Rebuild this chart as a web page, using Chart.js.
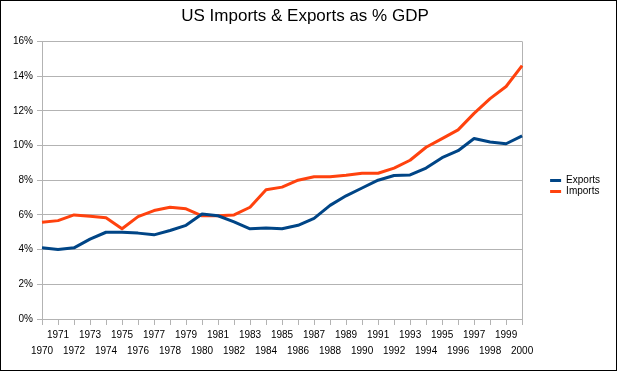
<!doctype html>
<html lang="en">
<head>
  <meta charset="utf-8">
  <title>US Imports & Exports as % GDP</title>
  <script src="https://cdn.jsdelivr.net/npm/chart.js"></script>
  <style>
    html, body { margin: 0; padding: 0; background: #fff; }
    #wrap { width: 618px; height: 372px; position: relative; }
  </style>
</head>
<body>
  <div id="wrap"><canvas id="chart" width="618" height="372"></canvas></div>
  <script>
    const years = ['1970','1971','1972','1973','1974','1975','1976','1977','1978','1979',
                   '1980','1981','1982','1983','1984','1985','1986','1987','1988','1989',
                   '1990','1991','1992','1993','1994','1995','1996','1997','1998','1999','2000'];
    const exportsPct = [4.1, 4.0, 4.1, 4.6, 5.0, 5.0, 4.95, 4.85, 5.1, 5.4,
                        6.05, 5.95, 5.6, 5.2, 5.25, 5.2, 5.4, 5.8, 6.55, 7.1,
                        7.55, 8.0, 8.27, 8.3, 8.7, 9.3, 9.7, 10.4, 10.2, 10.1, 10.55];
    const importsPct = [5.58, 5.67, 6.0, 5.92, 5.83, 5.2, 5.9, 6.25, 6.44, 6.35,
                        5.95, 5.95, 6.0, 6.44, 7.45, 7.6, 8.0, 8.2, 8.2, 8.28,
                        8.4, 8.4, 8.7, 9.15, 9.9, 10.4, 10.9, 11.85, 12.7, 13.4, 14.6];
    const yTicks = [0, 2, 4, 6, 8, 10, 12, 14, 16];

    const gridGray = '#b3b3b3';
    const font = { family: '"Liberation Sans", Arial, sans-serif', size: 10 };

    // black frame round the whole picture
    const frame = {
      id: 'frame',
      afterDraw(chart) {
        const c = chart.ctx;
        c.save();
        c.strokeStyle = '#000';
        c.lineWidth = 1;
        c.strokeRect(0.5, 0.5, 616, 370);
        c.restore();
      }
    };

    new Chart(document.getElementById('chart'), {
      type: 'line',
      data: {
        labels: years,
        datasets: [
          { label: 'Exports', data: exportsPct, borderColor: '#004586', backgroundColor: '#004586',
            borderWidth: 3, pointRadius: 0, tension: 0, borderJoinStyle: 'round' },
          { label: 'Imports', data: importsPct, borderColor: '#ff420e', backgroundColor: '#ff420e',
            borderWidth: 3, pointRadius: 0, tension: 0, borderJoinStyle: 'round' }
        ]
      },
      options: {
        responsive: false,
        animation: false,
        layout: { padding: { left: 0, right: 8, top: 0, bottom: 0 } },
        plugins: {
          title: {
            display: true,
            text: 'US Imports & Exports as % GDP',
            color: '#000',
            font: { family: font.family, size: 17, weight: 'normal', lineHeight: 1.2 },
            padding: { top: 6, bottom: 15 }
          },
          legend: {
            position: 'right',
            labels: {
              color: '#000',
              font: font,
              boxWidth: 11,
              boxHeight: 3,
              padding: 1,
              generateLabels: chart => Chart.defaults.plugins.legend.labels.generateLabels(chart)
                .map(l => ({ ...l, lineWidth: 0, fillStyle: l.strokeStyle }))
            }
          },
          tooltip: { enabled: false }
        },
        scales: {
          x: {
            ticks: {
              color: '#000',
              font: { ...font, lineHeight: 1.6 },
              autoSkip: false,
              maxRotation: 0,
              minRotation: 0,
              padding: 2,
              callback: (v, i) => (i % 2 === 1 ? [years[i], ''] : ['', years[i]])
            },
            grid: {
              drawOnChartArea: true,
              color: ctx => (ctx.index === years.length - 1 ? gridGray : 'rgba(0,0,0,0)'),
              tickColor: gridGray,
              tickLength: 6
            },
            border: { display: true, color: gridGray },
            afterFit: s => { s.height = 53; }
          },
          y: {
            min: 0,
            max: 16,
            afterBuildTicks: s => { s.ticks = yTicks.map(v => ({ value: v })); },
            ticks: {
              color: '#000',
              font: font,
              padding: 4,
              callback: v => v + '%'
            },
            grid: { color: gridGray, tickColor: gridGray, tickLength: 5 },
            border: { display: true, color: gridGray },
            afterFit: s => { s.width = 42; }
          },
          // empty spacer between the plot and the legend
          gap: {
            type: 'linear',
            position: 'right',
            display: true,
            ticks: { display: false },
            grid: { display: false },
            border: { display: false },
            afterFit: s => { s.width = 27; }
          }
        }
      },
      plugins: [frame]
    });
  </script>
</body>
</html>
